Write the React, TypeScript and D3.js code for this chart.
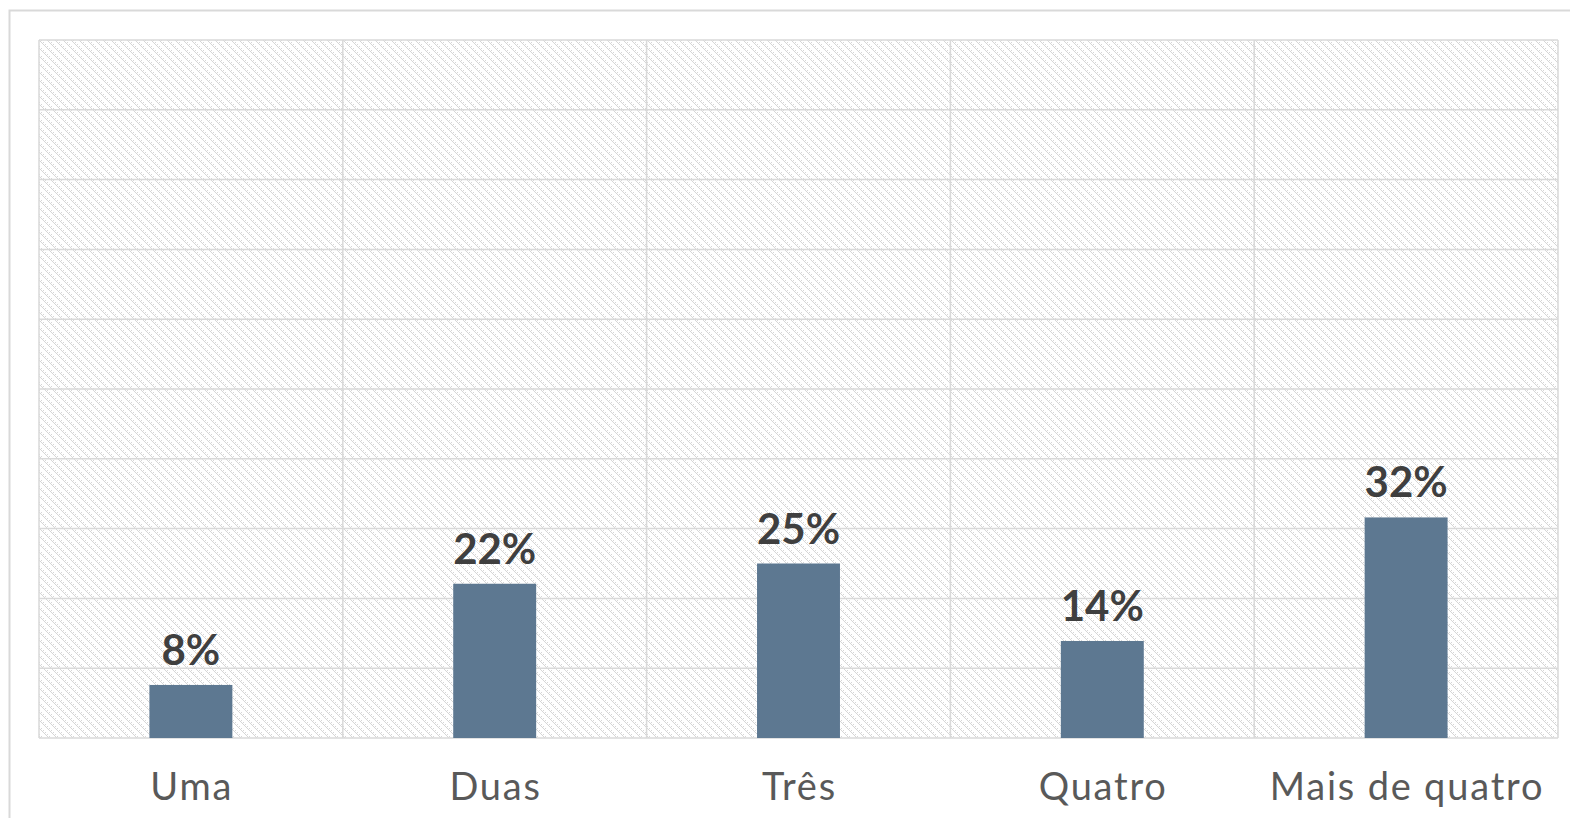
import { useRef, useEffect } from 'react';
import * as d3 from 'd3';

const categories = ['Uma', 'Duas', 'Três', 'Quatro', 'Mais de quatro'];
const values = [7.6, 22.1, 25.0, 13.9, 31.6];
const yTicks = [0, 10, 20, 30, 40, 50, 60, 70, 80, 90, 100];

export default function App() {
    const svgRef = useRef<SVGSVGElement>(null);

    const drawChart = () => {
        const svg = d3.select(svgRef.current);
        svg.selectAll('*').remove();

        const W = 1570;
        const H = 818;
        const margin = { top: 40, right: 12, bottom: 80, left: 39 };
        const width = W - margin.left - margin.right;
        const height = H - margin.top - margin.bottom;

        // hatch pattern for the plot area
        const defs = svg.append('defs');
        const pat = defs.append('pattern')
            .attr('id', 'hatch')
            .attr('patternUnits', 'userSpaceOnUse')
            .attr('width', 8)
            .attr('height', 8);
        pat.append('rect').attr('width', 8).attr('height', 8).attr('fill', '#fff');
        for (let i = 0; i < 8; i++) {
            pat.append('rect').attr('x', i).attr('y', i).attr('width', 1).attr('height', 1).attr('fill', '#d6d6d6');
            if (i % 2 === 0) {
                pat.append('rect').attr('x', (i + 2) % 8).attr('y', i).attr('width', 1).attr('height', 1).attr('fill', '#d6d6d6');
            }
        }

        // outer chart border
        svg.append('rect')
            .attr('x', 9.5)
            .attr('y', 10.5)
            .attr('width', 1700)
            .attr('height', 1000)
            .attr('fill', '#fff')
            .attr('stroke', '#d9d9d9')
            .attr('stroke-width', 2);

        const g = svg.append('g').attr('transform', `translate(${margin.left}, ${margin.top})`);

        const x = d3.scaleBand<string>()
            .domain(categories)
            .range([0, width])
            .paddingInner(0)
            .paddingOuter(0);

        const y = d3.scaleLinear()
            .domain([0, 100])
            .range([height, 0]);

        g.append('rect')
            .attr('width', width)
            .attr('height', height)
            .attr('fill', 'url(#hatch)');

        // horizontal grid
        g.selectAll('.hgrid')
            .data(yTicks)
            .enter()
            .append('line')
            .attr('class', 'hgrid')
            .attr('x1', 0)
            .attr('x2', width)
            .attr('y1', d => y(d))
            .attr('y2', d => y(d))
            .attr('stroke', '#d9d9d9')
            .attr('stroke-width', 1.5);

        // vertical grid at category boundaries
        const bounds = categories.map(c => x(c) as number).concat([width]);
        g.selectAll('.vgrid')
            .data(bounds)
            .enter()
            .append('line')
            .attr('class', 'vgrid')
            .attr('x1', d => d)
            .attr('x2', d => d)
            .attr('y1', 0)
            .attr('y2', height)
            .attr('stroke', '#d9d9d9')
            .attr('stroke-width', 1.5);

        const barW = x.bandwidth() * 0.273;

        g.selectAll('.bar')
            .data(values)
            .enter()
            .append('rect')
            .attr('class', 'bar')
            .attr('x', (d, i) => (x(categories[i]) as number) + x.bandwidth() / 2 - barW / 2)
            .attr('y', d => y(d))
            .attr('width', barW)
            .attr('height', d => height - y(d))
            .attr('fill', '#5d7891');

        g.selectAll('.label')
            .data(values)
            .enter()
            .append('text')
            .attr('class', 'label')
            .attr('x', (d, i) => (x(categories[i]) as number) + x.bandwidth() / 2)
            .attr('y', d => y(d) - 20)
            .attr('text-anchor', 'middle')
            .style('font-family', 'Lato, sans-serif')
            .style('font-weight', 'bold')
            .style('font-size', '42px')
            .style('fill', '#3f3f3f')
            .text(d => `${Math.round(d)}%`);

        g.selectAll('.cat')
            .data(categories)
            .enter()
            .append('text')
            .attr('class', 'cat')
            .attr('x', d => (x(d) as number) + x.bandwidth() / 2 + 0.9)
            .attr('y', height + 62)
            .attr('text-anchor', 'middle')
            .style('font-family', 'Lato, sans-serif')
            .style('font-size', '38px')
            .style('letter-spacing', '1.8px')
            .style('fill', '#595959')
            .text(d => d);
    };

    useEffect(() => {
        drawChart();
    }, []);

    return (
        <svg
            ref={svgRef}
            width={1570}
            height={818}
            style={{ position: 'absolute', left: 0, top: 0, display: 'block' }}
        ></svg>
    );
}
